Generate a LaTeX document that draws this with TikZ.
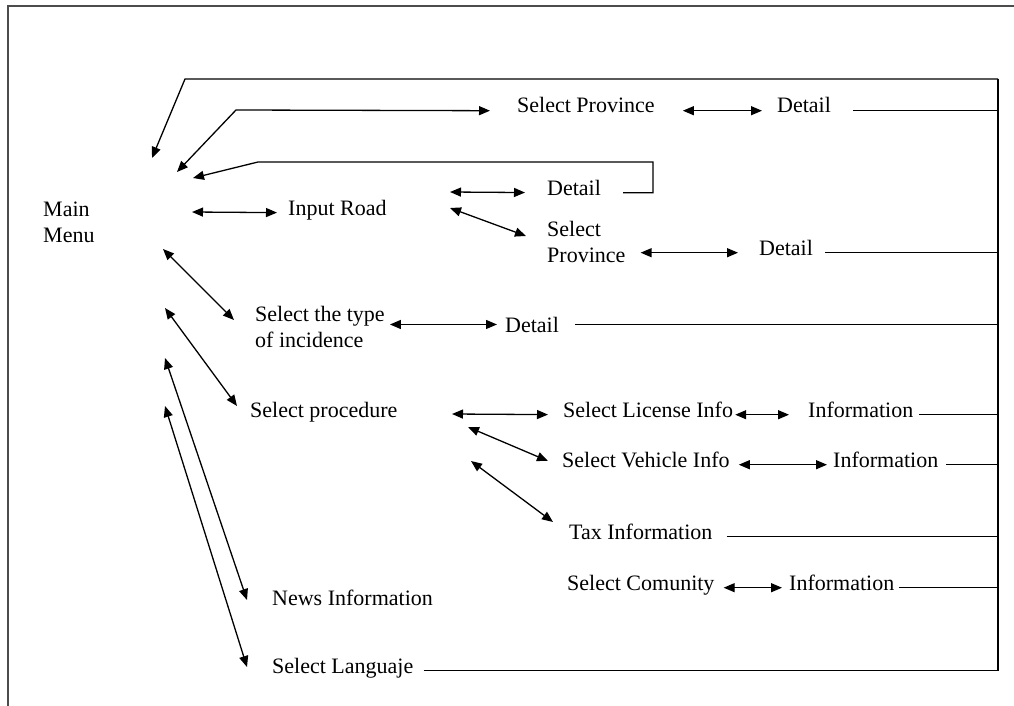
\documentclass[tikz,border=0pt]{standalone}
\usepackage{fontspec}
\setmainfont{Liberation Serif}
\usetikzlibrary{arrows.meta}

\begin{document}
\begin{tikzpicture}[x=1pt,y=-1pt,
    lbl/.style={anchor=base west,inner sep=0pt,align=left,font=\fontsize{22}{26}\selectfont},
    link/.style={line width=1.3pt},
    one/.style={link,-{Triangle[length=11pt,width=9pt]}},
    two/.style={link,{Triangle[length=11pt,width=9pt]}-{Triangle[length=11pt,width=9pt]}}]
    \useasboundingbox (0,0) rectangle (1014,706);
    \fill[white] (0,0) rectangle (1014,706);
    \draw[line width=2pt,black!70] (8,706) -- (8,6) -- (1014,6);

    \node[lbl] (menu) at (43,242) {Main\\Menu};
    \node[lbl] (prov1) at (517,113) {Select Province};
    \node[lbl] (det1) at (777,113) {Detail};
    \node[lbl] (road) at (288,215) {Input Road};
    \node[lbl] (det2) at (547,195) {Detail};
    \node[lbl] (prov2) at (547,262) {Select\\Province};
    \node[lbl] (det3) at (759,255) {Detail};
    \node[lbl] (type) at (255,347) {Select the type\\of incidence};
    \node[lbl] (det4) at (505,332) {Detail};
    \node[lbl] (proc) at (250,417) {Select procedure};
    \node[lbl] (lic) at (563,417) {Select License Info};
    \node[lbl] (inf1) at (808,417) {Information};
    \node[lbl] (veh) at (562,467) {Select Vehicle Info};
    \node[lbl] (inf2) at (833,467) {Information};
    \node[lbl] (tax) at (569,539) {Tax Information};
    \node[lbl] (com) at (567,590) {Select Comunity};
    \node[lbl] (inf3) at (789,590) {Information};
    \node[lbl] (news) at (272,605) {News Information};
    \node[lbl] (lang) at (272,673) {Select Languaje};

    % ends around the main menu
    \coordinate (m1) at (152,158);
    \coordinate (m2) at (177,172);
    \coordinate (m3) at (193,178);
    \coordinate (m4) at (192,212);
    \coordinate (m5) at (163,249);
    \coordinate (m6) at (165,308);
    \coordinate (m7) at (165,358);
    \coordinate (m8) at (165,406);
    % ends after input road and procedure
    \coordinate (r1) at (450,192);
    \coordinate (r2) at (450,208);
    \coordinate (p1) at (452,414);
    \coordinate (p2) at (468,427);
    \coordinate (p3) at (471,461);
    % corners
    \coordinate (bt) at (998,79);
    \coordinate (k1) at (185,79);
    \coordinate (k2) at (236,110);
    \coordinate (k3) at (258,162);
    \coordinate (k4) at (653,162);

    % return bus
    \draw[link] (bt) -- (lang.mid east -| bt);
    \draw[one] (bt) -- (k1) -- (m1);

    \draw[two] (m2) -- (k2) -- ([xshift=-27pt]prov1.mid west);
    \draw[two,shorten <=28pt,shorten >=15pt] (prov1.mid east) -- (det1.mid west);
    \draw[link,shorten <=22pt] (det1.mid east) -- (det1.mid east -| bt);

    \draw[two,shorten >=11pt] (m4) -- (road.mid west);
    \draw[two,shorten >=22pt] (r1) -- (det2.mid west);
    \draw[one,shorten <=22pt] (det2.mid east) -- (det2.mid east -| k4) -- (k4) -- (k3) -- (m3);
    \draw[two] (r2) -- ([shift={(-21,-26)}]prov2.base west);
    \draw[two,shorten <=15pt,shorten >=21pt] (prov2.east |- det3.mid west) -- (det3.mid west);
    \draw[link,shorten <=12pt] (det3.mid east) -- (det3.mid east -| bt);

    \draw[two] (m5) -- ([shift={(-21,-27)}]type.base west);
    \draw[two,shorten <=5pt,shorten >=8pt] (type.east |- det4.west) -- (det4.west);
    \draw[link,shorten <=16pt] (det4.east) -- (det4.east -| bt);

    \draw[two] (m6) -- ([shift={(-13,-11)}]proc.base west);
    \draw[two,shorten >=15pt] (p1) -- (lic.mid west);
    \draw[two,shorten <=2pt,shorten >=19pt] (lic.mid east) -- (inf1.mid west);
    \draw[link,shorten <=6pt] (inf1.mid east) -- (inf1.mid east -| bt);
    \draw[two] (p2) -- ([shift={(-14,-6)}]veh.base west);
    \draw[two,shorten <=9pt,shorten >=6pt] (veh.mid east) -- (inf2.mid west);
    \draw[link,shorten <=8pt] (inf2.mid east) -- (inf2.mid east -| bt);
    \draw[two] (p3) -- ([shift={(-16,-17)}]tax.base west);
    \draw[link,shorten <=14pt] (tax.mid east) -- (tax.mid east -| bt);
    \draw[two,shorten <=9pt,shorten >=7pt] (com.mid east) -- (inf3.mid west);
    \draw[link,shorten <=5pt] (inf3.mid east) -- (inf3.mid east -| bt);

    \draw[two] (m7) -- ([shift={(-25,-5)}]news.base west);
    \draw[two] (m8) -- ([shift={(-25,-6)}]lang.base west);
    \draw[link,shorten <=10pt] (lang.mid east) -- (lang.mid east -| bt);
\end{tikzpicture}
\end{document}
